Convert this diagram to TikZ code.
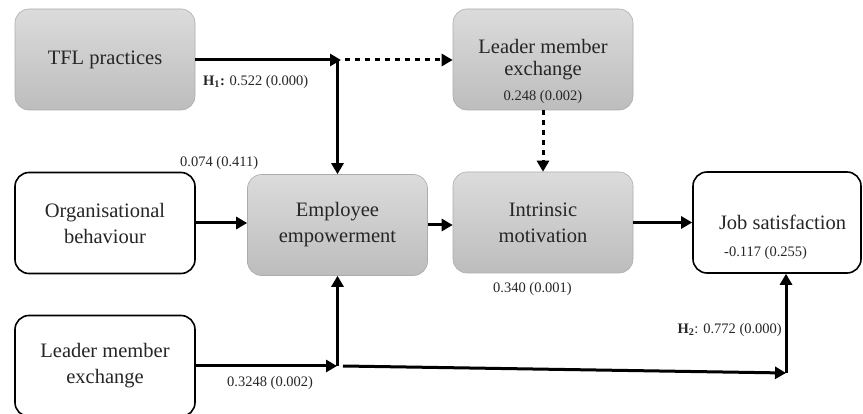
\documentclass[tikz,border=0pt]{standalone}
\usepackage{fontspec}
\setmainfont{Liberation Serif}
\usetikzlibrary{arrows.meta}

\begin{document}
\begin{tikzpicture}[x=1pt, y=-1pt,
    box/.style={rounded corners=14pt, minimum width=180pt, minimum height=101pt,
        align=center, inner sep=2pt, text=black!85, font=\fontsize{20.5}{26}\selectfont},
    gbox/.style={box, draw=gray!65, line width=0.6pt, top color=gray!28, bottom color=gray!52},
    wbox/.style={box, draw=black, line width=1.6pt, fill=white},
    val/.style={font=\fontsize{14.5}{17}\selectfont, text=black!85, inner sep=0pt},
    arr/.style={line width=3pt, -{Triangle[length=11pt,width=12pt]}},
    darr/.style={arr, dash pattern=on 5pt off 5pt}]

% Parametri
\def\colA{105}   % colonna sinistra
\def\colB{337.5} % colonna centrale
\def\colC{543}   % colonna destra
\useasboundingbox (0,0) rectangle (863,414);

% Blocchi grigi
\node[gbox] (tfl) at (\colA, 59.5) {TFL practices};
\node[gbox, font=\fontsize{20.5}{22}\selectfont] (lmxtop) at (\colC, 59.5) {Leader member\\exchange};
\node[gbox] (emp) at (\colB, 225) {Employee\\empowerment};
\node[gbox] (intr) at (\colC, 222.5) {Intrinsic\\motivation};

% Blocchi bianchi
\node[wbox] (org) at (\colA, 223) {Organisational\\behaviour};
\node[wbox] (lmxbot) at (\colA, 366) {Leader member\\exchange};
\node[wbox, minimum width=168pt, minimum height=101pt] (job) at (777, 222.5) {};
\node[box, minimum width=0pt, minimum height=0pt] (jobtxt) at (782.5, 222) {Job satisfaction};

% Punti di raccordo
\coordinate (j1) at (341, 60);
\coordinate (j1v) at (\colB, 60);
\coordinate (j1d) at (345, 60);
\coordinate (j2) at (337, 366);
\coordinate (j2v) at (\colB, 366);
\coordinate (j2r) at (343, 366);
\coordinate (j3) at (786, 373);

% Frecce piene
\draw[arr] (tfl.east |- j1) -- (j1);
\draw[arr] (j1v) -- (emp.north);
\draw[arr] (org.east) -- (emp.west |- org.east);
\draw[arr] (emp.east) -- (intr.west |- emp.east);
\draw[arr] (intr.east) -- (job.west |- intr.east);
\draw[arr] (lmxbot.east |- j2) -- (j2);
\draw[arr] (j2v) -- (emp.south);
\draw[arr] (j2r) -- (j3);
\draw[arr] (j3) -- (job.south -| j3);

% Frecce tratteggiate
\draw[darr] (j1d) -- (lmxtop.west |- j1d);
\draw[darr] (lmxtop.south) -- (intr.north);

% Coefficienti
\node[val, anchor=west] (h1) at (203, 82) {\textbf{H\textsubscript{1}:} 0.522 (0.000)};
\node[val, anchor=west] (v074) at (180, 163) {0.074 (0.411)};
\node[val] (v248) at (\colC, 97) {0.248 (0.002)};
\node[val, anchor=west] (v340) at (493, 289) {0.340 (0.001)};
\node[val, anchor=west] (v117) at (724, 253) {-0.117 (0.255)};
\node[val, anchor=east] (h2) at (782, 330) {\textbf{H\textsubscript{2}}: 0.772 (0.000)};
\node[val, anchor=west] (v3248) at (227, 383) {0.3248 (0.002)};
\end{tikzpicture}
\end{document}
